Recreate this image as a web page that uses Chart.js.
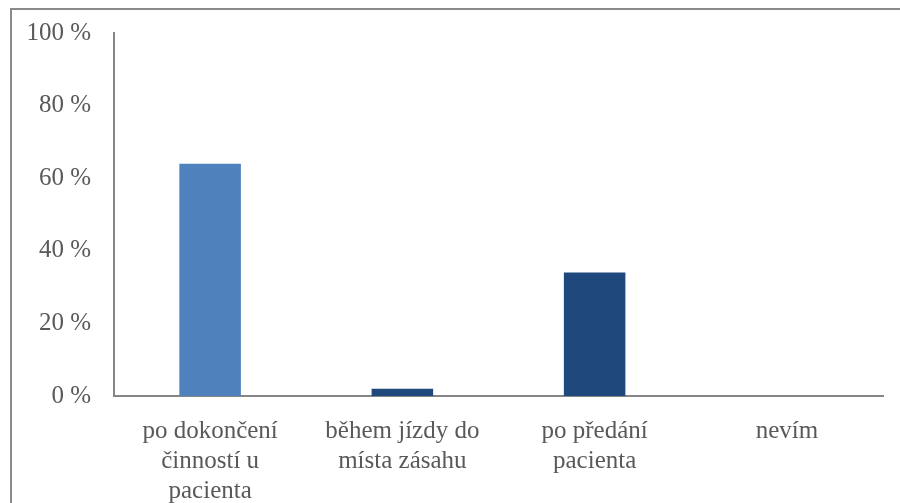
<!DOCTYPE html>
<html lang="cs">
<head>
    <meta charset="UTF-8">
    <title>Graf</title>
    <script src="https://cdn.jsdelivr.net/npm/chart.js"></script>
    <style>
        body { margin: 0; background: #fff; }
        #wrap { position: relative; width: 900px; height: 503px; overflow: hidden; }
        #frame { position: absolute; left: 10px; top: 8px; width: 1000px; height: 700px; border: 2px solid #8a8a8a; }
        canvas { position: absolute; left: 0; top: 0; }
    </style>
</head>
<body>
<div id="wrap">
    <div id="frame"></div>
    <canvas id="chart" width="900" height="503"></canvas>
</div>
<script>
    const categories = [
        ['po dokončení', 'činností u', 'pacienta'],
        ['během jízdy do', 'místa zásahu'],
        ['po předání', 'pacienta'],
        ['nevím']
    ];
    const values = [64, 2, 34, 0];
    const barColors = ['#4f81bd', '#1f497d', '#1f497d', '#1f497d'];
    const yTicks = [0, 20, 40, 60, 80, 100];

    const textColor = '#595959';
    const fontFamily = '"Liberation Serif", "Times New Roman", serif';

    new Chart(document.getElementById('chart'), {
        type: 'bar',
        data: {
            labels: categories,
            datasets: [{
                data: values,
                backgroundColor: barColors,
                borderWidth: 0,
                categoryPercentage: 1,
                barPercentage: 0.32
            }]
        },
        options: {
            responsive: false,
            animation: false,
            layout: { padding: { top: 33, right: 17, left: 0, bottom: 0 } },
            plugins: { legend: { display: false }, tooltip: { enabled: false } },
            scales: {
                x: {
                    grid: { display: false },
                    border: { display: true, color: '#868686', width: 2 },
                    ticks: { color: textColor, font: { family: fontFamily, size: 25, lineHeight: 1.2 }, padding: 12, maxRotation: 0, autoSkip: false },
                    afterFit: s => { s.height = 107; }
                },
                y: {
                    min: 0,
                    max: 100,
                    grid: { display: false },
                    border: { display: true, color: '#868686', width: 2 },
                    afterBuildTicks: s => { s.ticks = yTicks.map(v => ({ value: v })); },
                    ticks: { color: textColor, font: { family: fontFamily, size: 25 }, padding: 15, callback: v => v + ' %' },
                    afterFit: s => { s.width = 114; }
                }
            }
        }
    });
</script>
</body>
</html>
